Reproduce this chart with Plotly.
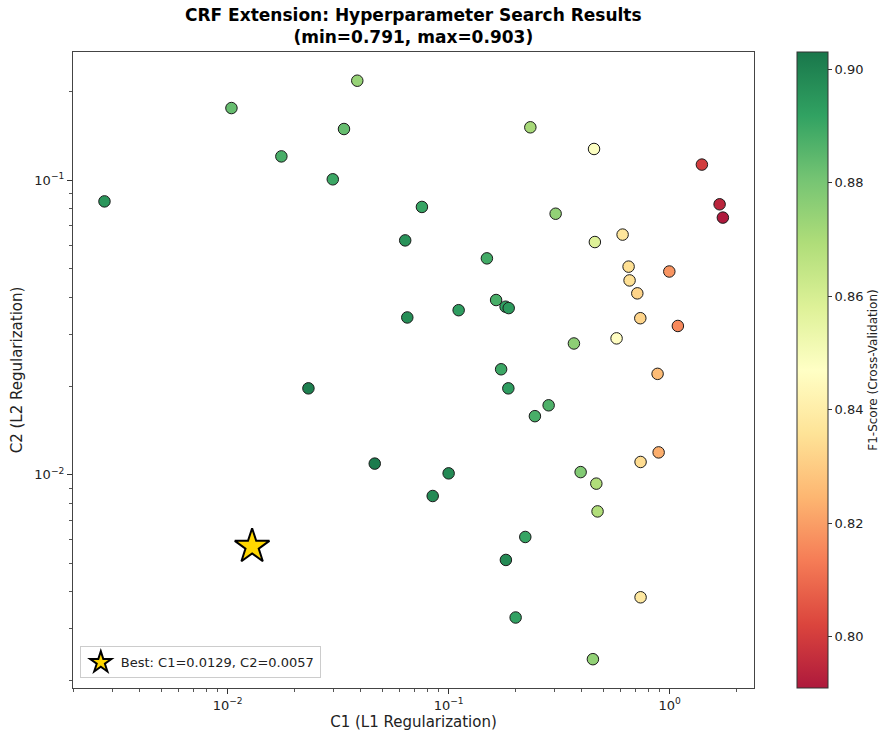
import plotly.graph_objects as go

# ---- data ----
c1_values = [0.00277, 0.0104, 0.0175, 0.0299, 0.0336, 0.0386, 0.0757, 0.0636, 0.0650, 0.0232,
             0.0463, 0.100, 0.0847, 0.111, 0.149, 0.164, 0.181, 0.187, 0.1728, 0.1863,
             0.2457, 0.2835, 0.2343, 0.305, 0.369, 0.455, 0.459, 0.5755, 0.6128, 0.6523,
             0.659, 0.7143, 0.737, 0.997, 1.090, 1.400, 1.684, 1.742, 0.8824, 0.739,
             0.892, 0.3957, 0.466, 0.472, 0.2223, 0.1816, 0.201, 0.4497, 0.739]
c2_values = [0.0848, 0.176, 0.1206, 0.1008, 0.1494, 0.218, 0.0812, 0.0625, 0.0342, 0.01964,
             0.01090, 0.0101, 0.00846, 0.0362, 0.0543, 0.0392, 0.0372, 0.0368, 0.0228, 0.01964,
             0.0158, 0.0172, 0.1514, 0.0770, 0.0279, 0.1278, 0.0617, 0.02904, 0.0654, 0.0509,
             0.0457, 0.0413, 0.0340, 0.0490, 0.0320, 0.1131, 0.0829, 0.0747, 0.0220, 0.01104,
             0.0119, 0.01020, 0.00932, 0.00750, 0.00614, 0.00513, 0.00327, 0.00236, 0.00383]
f1_scores = [0.895, 0.883, 0.888, 0.890, 0.883, 0.874, 0.891, 0.896, 0.897, 0.901,
             0.902, 0.898, 0.898, 0.893, 0.889, 0.888, 0.892, 0.894, 0.890, 0.893,
             0.888, 0.887, 0.871, 0.875, 0.876, 0.848, 0.858, 0.846, 0.837, 0.835,
             0.835, 0.832, 0.832, 0.818, 0.816, 0.800, 0.794, 0.791, 0.826, 0.834,
             0.823, 0.878, 0.869, 0.869, 0.891, 0.898, 0.892, 0.875, 0.838]
best_c1 = [0.0129]
best_c2 = [0.0057]
best_f1 = 0.903

x_tick_vals = [0.01, 0.1, 1]
x_tick_text = ["10<sup>\u22122</sup>", "10<sup>\u22121</sup>", "10<sup>0</sup>"]
y_tick_vals = [0.01, 0.1]
y_tick_text = ["10<sup>\u22122</sup>", "10<sup>\u22121</sup>"]
cbar_tick_vals = [0.80, 0.82, 0.84, 0.86, 0.88, 0.90]

# ---- style ----
FONT = "DejaVu Sans"
rdylgn = ["#a50026", "#d73027", "#f46d43", "#fdae61", "#fee08b", "#ffffbf",
          "#d9ef8b", "#a6d96a", "#66bd63", "#1a9850", "#006837"]
ALPHA = 0.9


def blend(h):
    r, g, b = int(h[1:3], 16), int(h[3:5], 16), int(h[5:7], 16)
    f = lambda c: round(ALPHA * c + (1 - ALPHA) * 255)
    return f"rgb({f(r)},{f(g)},{f(b)})"


colorscale = [[i / (len(rdylgn) - 1), blend(h)] for i, h in enumerate(rdylgn)]

cmin = min(f1_scores + [best_f1])
cmax = max(f1_scores + [best_f1])

minor_x = [m * 10 ** e for e in range(-3, 1) for m in range(2, 10)]
minor_y = [m * 10 ** e for e in range(-3, 0) for m in range(2, 10)]

fig = go.Figure()
fig.add_trace(go.Scatter(
    x=c1_values, y=c2_values, mode="markers", showlegend=False,
    marker=dict(size=11.5, color=f1_scores, colorscale=colorscale, cmin=cmin, cmax=cmax,
                line=dict(color="#1a1a1a", width=1),
                colorbar=dict(
                    title=dict(text="F1-Score (Cross-Validation)", side="right",
                               font=dict(family=FONT, size=12, color="#222")),
                    tickvals=cbar_tick_vals, ticktext=[f"{v:.2f}" for v in cbar_tick_vals],
                    ticks="outside", ticklen=4, tickcolor="#333",
                    tickfont=dict(family=FONT, size=13, color="#222"),
                    thickness=31, len=1, lenmode="fraction", y=0.5, yanchor="middle",
                    x=1.063, xanchor="left", xpad=0, ypad=0,
                    outlinewidth=1, outlinecolor="#333",
                )),
    hovertemplate="C1=%{x}<br>C2=%{y}<br>F1=%{marker.color}<extra></extra>",
))
fig.add_trace(go.Scatter(
    x=best_c1, y=best_c2, mode="markers",
    name=f"Best: C1={best_c1[0]:.4f}, C2={best_c2[0]:.4f}",
    marker=dict(symbol="star", size=26, color="#ffd700", line=dict(color="black", width=2)),
))

axis_common = dict(
    type="log", showgrid=False, zeroline=False, showline=True, linecolor="#444",
    linewidth=1.2, mirror=True, ticks="outside", ticklen=5, tickcolor="#333",
    tickfont=dict(family=FONT, size=13, color="#222"),
    title_font=dict(family=FONT, size=15, color="#222"),
)
fig.update_xaxes(**axis_common, range=[-2.70, 0.382], tickvals=x_tick_vals, ticktext=x_tick_text,
                 title_text="C1 (L1 Regularization)", title_standoff=4,
                 minor=dict(ticks="outside", ticklen=3, tickcolor="#555", tickvals=minor_x, showgrid=False))
fig.update_yaxes(**axis_common, range=[-2.725, -0.564], tickvals=y_tick_vals, ticktext=y_tick_text,
                 title_text="C2 (L2 Regularization)", title_standoff=8,
                 minor=dict(ticks="outside", ticklen=3, tickcolor="#555", tickvals=minor_y, showgrid=False))

fig.update_layout(
    width=886, height=736,
    margin=dict(l=73, r=132, t=52, b=48, autoexpand=False),
    paper_bgcolor="white", plot_bgcolor="white",
    font=dict(family=FONT, color="#222"),
    annotations=[dict(
        text="<b>CRF Extension: Hyperparameter Search Results<br>(min=0.791, max=0.903)</b>",
        x=0.5, xref="paper", y=1, yref="paper", xanchor="center", yanchor="bottom",
        yshift=3, showarrow=False, align="center",
        font=dict(family=FONT, size=17, color="black"))],
    legend=dict(x=0.01, y=0.015, xanchor="left", yanchor="bottom",
                bgcolor="rgba(255,255,255,0.85)", bordercolor="#ccc", borderwidth=1,
                font=dict(family=FONT, size=13, color="#222"), itemsizing="trace"),
)

fig.write_html("out.html", config={"displayModeBar": False},
               post_script="document.body.style.margin='0';document.body.style.overflow='hidden';")
